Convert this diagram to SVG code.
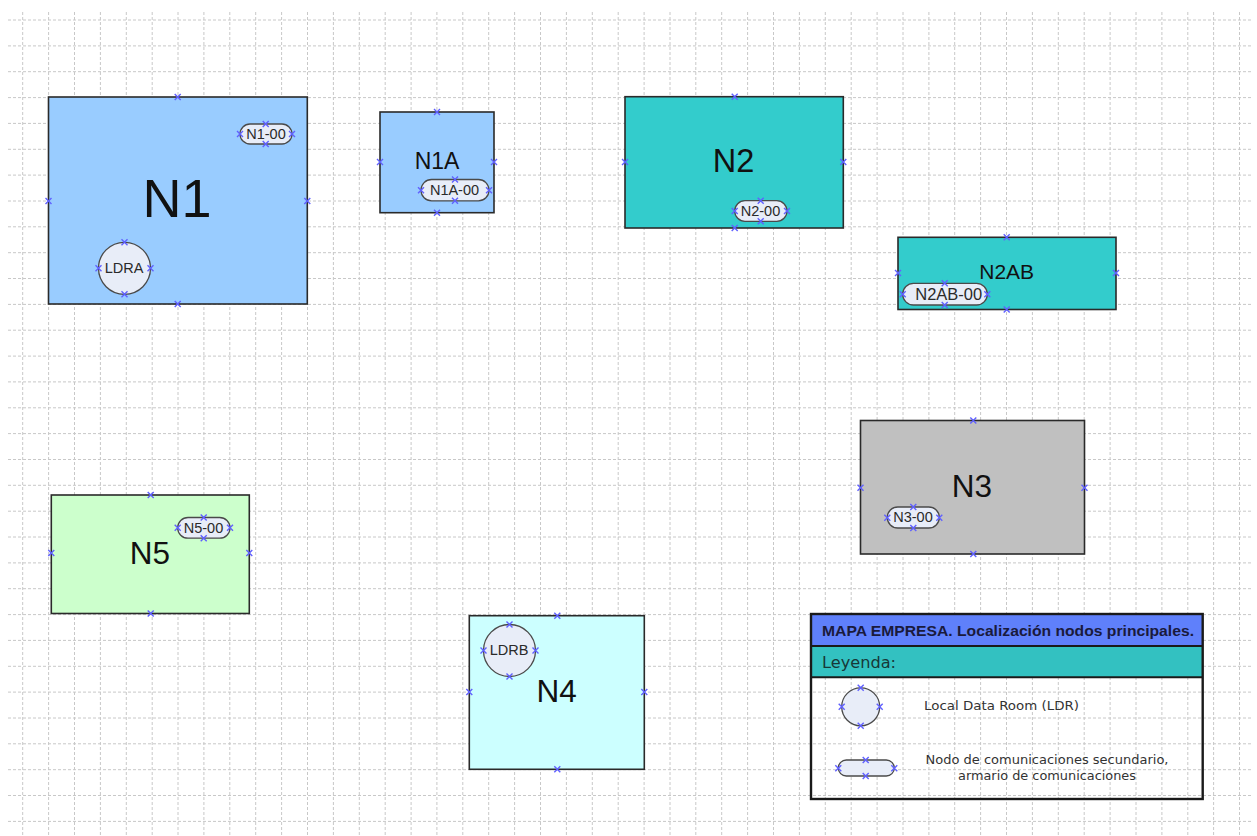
<svg xmlns="http://www.w3.org/2000/svg" xmlns:xlink="http://www.w3.org/1999/xlink" width="1257" height="836" viewBox="0 0 1257 836">
<style>
.grid{fill:none;stroke:#c8c8c8;stroke-width:1;stroke-dasharray:3 2}
.node{stroke:#2a2a2a;stroke-width:1.6}
.pill{fill:#e8edf8;stroke:#4a4a4a;stroke-width:1.3}
.big{font-family:"Liberation Sans",Arial,sans-serif;fill:#111;text-anchor:middle}
.small{font-family:"Liberation Sans",Arial,sans-serif;fill:#2a2a2a;text-anchor:middle;font-size:14.5px}
.mk{fill:none;stroke:#6060ff;stroke-width:1.4}
.leg{font-family:"DejaVu Sans",Verdana,sans-serif;fill:#333;font-size:13px}
</style>
<defs>
<path id="m" class="mk" d="M-3-3L3 3M-3 3L3-3"/>
</defs>
<rect x="0" y="0" width="1257" height="836" fill="#ffffff"/>
<g id="grid">
<path class="grid" d="M22.7 12V836M48.6 12V836M74.5 12V836M100.4 12V836M126.3 12V836M152.2 12V836M178 12V836M203.9 12V836M229.8 12V836M255.7 12V836M281.6 12V836M307.5 12V836M333.4 12V836M359.3 12V836M385.2 12V836M411.1 12V836M436.9 12V836M462.8 12V836M488.7 12V836M514.6 12V836M540.5 12V836M566.4 12V836M592.3 12V836M618.2 12V836M644.1 12V836M670 12V836M695.8 12V836M721.7 12V836M747.6 12V836M773.5 12V836M799.4 12V836M825.3 12V836M851.2 12V836M877.1 12V836M903 12V836M928.9 12V836M954.7 12V836M980.6 12V836M1006.5 12V836M1032.4 12V836M1058.3 12V836M1084.2 12V836M1110.1 12V836M1136 12V836M1161.9 12V836M1187.8 12V836M1213.6 12V836M1239.5 12V836"/>
<path class="grid" d="M8 20H1251M8 45.9H1251M8 71.7H1251M8 97.6H1251M8 123.4H1251M8 149.3H1251M8 175.1H1251M8 201H1251M8 226.8H1251M8 252.7H1251M8 278.5H1251M8 304.4H1251M8 330.2H1251M8 356.1H1251M8 381.9H1251M8 407.8H1251M8 433.6H1251M8 459.5H1251M8 485.3H1251M8 511.2H1251M8 537H1251M8 562.9H1251M8 588.7H1251M8 614.6H1251M8 640.4H1251M8 666.3H1251M8 692.1H1251M8 718H1251M8 743.8H1251M8 769.7H1251M8 795.5H1251M8 821.4H1251"/>
</g>
<g id="connectors"></g>
<g id="N1">
<rect class="node" x="48.5" y="97" width="258.8" height="207" fill="#99ccff"/>
<text class="big" x="177" y="217" font-size="54">N1</text>
<use href="#m" x="177.7" y="97"/><use href="#m" x="48.5" y="201"/><use href="#m" x="307.3" y="201"/><use href="#m" x="177.7" y="304"/>
</g>
<g id="N1-00">
<rect class="pill" x="240" y="124" width="52" height="20" rx="10"/>
<text class="small" x="266" y="139">N1-00</text>
<use href="#m" x="240" y="134"/><use href="#m" x="292" y="134"/><use href="#m" x="265.7" y="124"/><use href="#m" x="265.7" y="144"/>
</g>
<g id="LDRA">
<circle class="pill" cx="124.5" cy="268.3" r="26"/>
<text class="small" x="124" y="273.3">LDRA</text>
<use href="#m" x="124.5" y="242.3"/><use href="#m" x="98.5" y="268.3"/><use href="#m" x="150.5" y="268.3"/><use href="#m" x="124.5" y="294.3"/>
</g>
<g id="N1A">
<rect class="node" x="380" y="112" width="114" height="100.7" fill="#99ccff"/>
<text class="big" x="437" y="169.3" font-size="23">N1A</text>
<use href="#m" x="437" y="112"/><use href="#m" x="380" y="162"/><use href="#m" x="494" y="162"/><use href="#m" x="437" y="212.7"/>
</g>
<g id="N1A-00">
<rect class="pill" x="421" y="179.5" width="68" height="21.3" rx="10.6"/>
<text class="small" x="454.5" y="194.8">N1A-00</text>
<use href="#m" x="421" y="190.2"/><use href="#m" x="489" y="190.2"/><use href="#m" x="455" y="179.5"/><use href="#m" x="455" y="200.8"/>
</g>
<g id="N2">
<rect class="node" x="625" y="96.7" width="218.3" height="131.3" fill="#33cccc"/>
<text class="big" x="733.5" y="171.7" font-size="32.5">N2</text>
<use href="#m" x="734.7" y="96.7"/><use href="#m" x="625" y="162"/><use href="#m" x="843.3" y="162"/><use href="#m" x="734.7" y="228"/>
</g>
<g id="N2-00">
<rect class="pill" x="734.7" y="200.7" width="52.3" height="20.6" rx="10.3"/>
<text class="small" x="760.5" y="215.8">N2-00</text>
<use href="#m" x="734.7" y="211"/><use href="#m" x="787" y="211"/><use href="#m" x="760.7" y="200.7"/><use href="#m" x="760.7" y="221.3"/>
</g>
<g id="N2AB">
<rect class="node" x="898" y="237.3" width="218" height="72.2" fill="#33cccc"/>
<text class="big" x="1006.7" y="279" font-size="21">N2AB</text>
<use href="#m" x="1006.7" y="237.3"/><use href="#m" x="898" y="273"/><use href="#m" x="1116" y="273"/><use href="#m" x="1006.7" y="309.5"/>
</g>
<g id="N2AB-00">
<rect class="pill" x="902.7" y="283.3" width="84.6" height="21.7" rx="10.8"/>
<text class="small" x="948.7" y="300" style="font-size:16.5px">N2AB-00</text>
<use href="#m" x="902.7" y="294.2"/><use href="#m" x="987.3" y="294.2"/><use href="#m" x="944.7" y="283.3"/><use href="#m" x="944.7" y="305"/>
</g>
<g id="N3">
<rect class="node" x="860.5" y="420.5" width="224" height="133.5" fill="#c0c0c0"/>
<text class="big" x="972" y="497.3" font-size="31.5">N3</text>
<use href="#m" x="973.3" y="420.5"/><use href="#m" x="860.5" y="487.7"/><use href="#m" x="1084.5" y="487.7"/><use href="#m" x="973.3" y="554"/>
</g>
<g id="N3-00">
<rect class="pill" x="887.3" y="507" width="52" height="21" rx="10.5"/>
<text class="small" x="913" y="522.3">N3-00</text>
<use href="#m" x="887.3" y="517.7"/><use href="#m" x="939.3" y="517.7"/><use href="#m" x="913.3" y="507"/><use href="#m" x="913.3" y="528"/>
</g>
<g id="N5">
<rect class="node" x="51.3" y="495" width="198" height="118.5" fill="#ccffcc"/>
<text class="big" x="150" y="564.3" font-size="31.5">N5</text>
<use href="#m" x="150.7" y="495"/><use href="#m" x="51.3" y="553"/><use href="#m" x="249.3" y="553"/><use href="#m" x="150.7" y="613.5"/>
</g>
<g id="N5-00">
<rect class="pill" x="177.7" y="517.5" width="52.3" height="20.7" rx="10.3"/>
<text class="small" x="203.5" y="532.5">N5-00</text>
<use href="#m" x="177.7" y="527.8"/><use href="#m" x="230" y="527.8"/><use href="#m" x="203.7" y="517.5"/><use href="#m" x="203.7" y="538.2"/>
</g>
<g id="N4">
<rect class="node" x="469.3" y="615.7" width="175" height="153.6" fill="#ccffff"/>
<text class="big" x="556.7" y="701.7" font-size="31.5">N4</text>
<use href="#m" x="557.3" y="615.7"/><use href="#m" x="469.3" y="692"/><use href="#m" x="644.3" y="692"/><use href="#m" x="557.3" y="769.3"/>
</g>
<g id="LDRB">
<circle class="pill" cx="509.5" cy="650.5" r="26"/>
<text class="small" x="509" y="655.3">LDRB</text>
<use href="#m" x="509.5" y="624.5"/><use href="#m" x="483.5" y="650.5"/><use href="#m" x="535.5" y="650.5"/><use href="#m" x="509.5" y="676.5"/>
</g>
<g id="legend">
<rect x="811" y="614" width="391.7" height="32" fill="#5f80fb"/>
<rect x="811" y="646" width="391.7" height="31.3" fill="#33c1c1"/>
<rect x="811" y="614" width="391.7" height="185" fill="none" stroke="#1a1a1a" stroke-width="2.4"/>
<path d="M811 646H1202.7M811 677.3H1202.7" stroke="#1a1a1a" stroke-width="2"/>
<text x="822" y="636" font-family="Liberation Sans,Arial,sans-serif" font-weight="bold" font-size="15.5" fill="#1a1a3c" textLength="372" lengthAdjust="spacingAndGlyphs">MAPA EMPRESA. Localización nodos principales.</text>
<text x="822" y="667.5" font-family="DejaVu Sans,Verdana,sans-serif" font-size="15" fill="#173838" textLength="74" lengthAdjust="spacingAndGlyphs">Leyenda:</text>
<circle class="pill" cx="860.7" cy="706.8" r="19"/>
<use href="#m" x="860.7" y="687.8"/><use href="#m" x="841.7" y="706.8"/><use href="#m" x="879.7" y="706.8"/><use href="#m" x="860.7" y="725.8"/>
<text class="leg" x="924" y="710" textLength="155" lengthAdjust="spacingAndGlyphs">Local Data Room (LDR)</text>
<rect class="pill" x="838.3" y="760" width="56" height="16" rx="8"/>
<use href="#m" x="838.3" y="768.3"/><use href="#m" x="894.3" y="768.3"/><use href="#m" x="865.7" y="760"/><use href="#m" x="865.7" y="776"/>
<text class="leg" x="1047" y="763.5" text-anchor="middle" textLength="243" lengthAdjust="spacingAndGlyphs">Nodo de comunicaciones secundario,</text>
<text class="leg" x="1047" y="779.5" text-anchor="middle" textLength="178" lengthAdjust="spacingAndGlyphs">armario de comunicaciones</text>
</g>
</svg>
